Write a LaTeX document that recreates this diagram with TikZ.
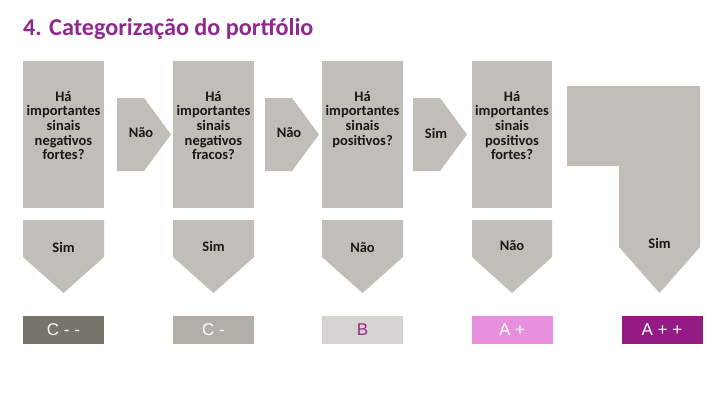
\documentclass[tikz,border=0pt]{standalone}
\usepackage{fontspec}
\setmainfont{Carlito}
\newfontfamily\gradefont{Liberation Sans}
\definecolor{shapegray}{RGB}{193,190,185}
\definecolor{textdark}{RGB}{25,25,25}
\definecolor{titlepurple}{RGB}{143,42,140}
\definecolor{gradeCmm}{RGB}{119,116,108}
\definecolor{gradeCm}{RGB}{178,175,169}
\definecolor{gradeB}{RGB}{213,212,209}
\definecolor{gradeBtext}{RGB}{150,40,140}
\definecolor{gradeAp}{RGB}{230,143,221}
\definecolor{gradeApp}{RGB}{149,27,132}
\tikzset{
  shapefill/.style={fill=shapegray, draw=none},
  qtext/.style={align=center, anchor=north, inner sep=0pt, text=textdark,
    font=\fontsize{14.5}{14.6}\selectfont\bfseries},
  atext/.style={anchor=center, inner sep=0pt, text=textdark,
    font=\fontsize{14.5}{14.6}\selectfont\bfseries},
  grade/.style={minimum width=81pt, minimum height=28pt, inner sep=0pt,
    text=white, font=\gradefont\fontsize{17}{20}\selectfont}
}
\begin{document}
\begin{tikzpicture}[x=1pt,y=-1pt]
\useasboundingbox[fill=white] (0,0) rectangle (727,407);
% title
\node[anchor=base west, inner sep=0pt, text=titlepurple,
  font=\fontsize{24.2}{28}\selectfont\bfseries] (title) at (23,35) {4. Categorização do portfólio};
% question boxes
\fill[shapefill] (23,61) rectangle (104,208);
\fill[shapefill] (173,61) rectangle (254,208);
\fill[shapefill] (322,61) rectangle (403,208);
\fill[shapefill] (472,61) rectangle (552,208);
% right arrows
\fill[shapefill] (117,98) -- (144,98) -- (171,134.5) -- (144,171) -- (117,171) -- cycle;
\fill[shapefill] (265,98) -- (292,98) -- (319,134.5) -- (292,171) -- (265,171) -- cycle;
\fill[shapefill] (413,98) -- (440,98) -- (467,134.5) -- (440,171) -- (413,171) -- cycle;
% down arrows
\fill[shapefill] (23,220) -- (104,220) -- (104,257) -- (63.5,293) -- (23,257) -- cycle;
\fill[shapefill] (173,220) -- (254,220) -- (254,257) -- (213.5,293) -- (173,257) -- cycle;
\fill[shapefill] (322,220) -- (403,220) -- (403,257) -- (362.5,293) -- (322,257) -- cycle;
\fill[shapefill] (472,220) -- (552,220) -- (552,257) -- (512,293) -- (472,257) -- cycle;
% L shape
\fill[shapefill] (567,86) -- (700,86) -- (700,247) -- (659.5,293) -- (619,247) -- (619,166) -- (567,166) -- cycle;
% question texts
\node[qtext] (q1) at (63.5,91) {Há\\importantes\\sinais\\negativos\\fortes?};
\node[qtext] (q2) at (213.5,91) {Há\\importantes\\sinais\\negativos\\fracos?};
\node[qtext] (q3) at (362.5,91) {Há\\importantes\\sinais\\positivos?};
\node[qtext] (q4) at (512,91) {Há\\importantes\\sinais\\positivos\\fortes?};
% arrow texts
\node[atext] (a1) at (141,133) {Não};
\node[atext] (a2) at (289,133) {Não};
\node[atext] (a3) at (436,133) {Sim};
\node[atext] (d1) at (63.5,247) {Sim};
\node[atext] (d2) at (213.5,246) {Sim};
\node[atext] (d3) at (362.5,248) {Não};
\node[atext] (d4) at (512,246) {Não};
\node[atext] (d5) at (659.5,243) {Sim};
% grades
\node[grade, fill=gradeCmm] (g1) at (63.5,330) {C - -};
\node[grade, fill=gradeCm] (g2) at (213.5,330) {C -};
\node[grade, fill=gradeB, text=gradeBtext] (g3) at (362.5,330) {B};
\node[grade, fill=gradeAp] (g4) at (512,330) {A +};
\node[grade, fill=gradeApp] (g5) at (662,330) {A + +};
\end{tikzpicture}
\end{document}
